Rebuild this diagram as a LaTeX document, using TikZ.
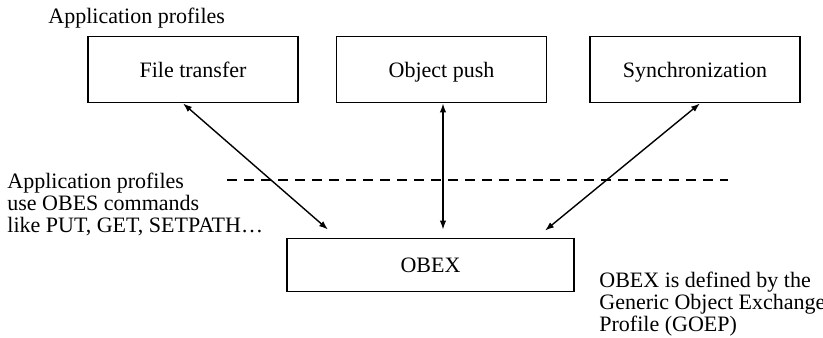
\documentclass[tikz,border=0pt]{standalone}
\usepackage{fontspec}
\setmainfont{Liberation Serif}
\usepackage{tikz}
\usetikzlibrary{arrows.meta, positioning, calc}

\begin{document}
\begin{tikzpicture}[
    x=0.5pt, y=-0.5pt,
    >={Latex[length=4.5pt, width=3.2pt]},
    box/.style={draw, line width=0.9pt, minimum width=105pt,
                minimum height=33pt, inner sep=0pt,
                text height=9pt, text depth=1.5pt,
                font=\fontsize{11}{11}\selectfont},
    arr/.style={<->, line width=0.7pt},
    sep/.style={line width=0.9pt, dash pattern=on 5pt off 3.5pt},
    note/.style={align=left, inner sep=0pt,
                 font=\fontsize{11}{11.1}\selectfont},
]
\useasboundingbox (0,0) rectangle (823,337);
% ---- Application profiles (top row) ----
\node[note, anchor=base west] (title) at (48,23) {Application profiles};
\node[box] (ft)   at (193,69.5)  {File transfer};
\node[box] (op)   at (441.5,69.5) {Object push};
\node[box] (sync) at (695,69.5)  {Synchronization};
% ---- OBEX layer ----
\node[box, minimum width=143.5pt, minimum height=26.5pt] (obex) at (430.5,265) {OBEX};

% ---- Notes (base = last line) ----
\node[note, anchor=base west] (cmds) at (7,232.5)
    {Application profiles\\use OBES commands\\like PUT, GET, SETPATH\dots};
\node[note, anchor=base west] (goep) at (599,331.5)
    {OBEX is defined by the\\Generic Object Exchange\\Profile (GOEP)};

% ---- Dashed separator ----
\coordinate (sepL) at (227,180);
\coordinate (sepR) at (728,180);
\draw[sep] (sepL) -- (sepR);

% ---- Arrows ----
\draw[arr] ([xshift=-5pt]ft.south) -- ([xshift=-51.25pt, yshift=4pt]obex.north);
\draw[arr] ([xshift=0.75pt]op.south) -- ([xshift=6.25pt, yshift=4pt]obex.north);
\draw[arr] ([xshift=2.5pt]sync.south) -- ([xshift=57.25pt, yshift=3.5pt]obex.north);
\end{tikzpicture}
\end{document}
